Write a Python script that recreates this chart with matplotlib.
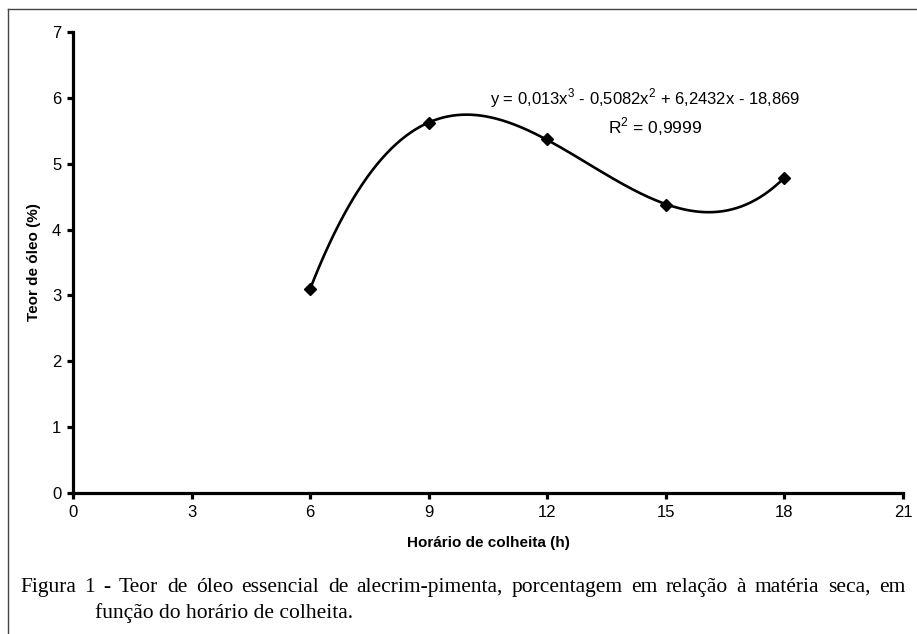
import numpy as np
import matplotlib
matplotlib.use("Agg")
import matplotlib.pyplot as plt
from matplotlib.lines import Line2D

# dados
horario = [6, 9, 12, 15, 18]
teor = [3.10, 5.62, 5.37, 4.38, 4.79]
xticks = [0, 3, 6, 9, 12, 15, 18, 21]
yticks = [0, 1, 2, 3, 4, 5, 6, 7]
equacao = "y = 0,013x$^3$ - 0,5082x$^2$ + 6,2432x - 18,869"
r2 = "R$^2$ = 0,9999"
legenda = ("Figura 1 - Teor de óleo essencial de alecrim-pimenta, porcentagem em relação à matéria seca, em",
           "função do horário de colheita.")

plt.rcParams['font.family'] = ['Liberation Sans', 'DejaVu Sans']
plt.rcParams['mathtext.fontset'] = 'custom'
plt.rcParams['mathtext.rm'] = 'Liberation Sans'

W, H = 917, 634
fig = plt.figure(figsize=(W / 100, H / 100), dpi=100)
ax = fig.add_axes([73 / W, 1 - 493 / H, 830 / W, 461 / H])

# linha de tendencia polinomial (3a ordem)
coef = np.polyfit(horario, teor, 3)
xs = np.linspace(min(horario), max(horario), 300)
ax.plot(xs, np.polyval(coef, xs), color='black', lw=1.9, solid_capstyle='round')
ax.plot(horario, teor, linestyle='none', marker='D', ms=6.5, color='black')

ax.set_xlim(0, 21)
ax.set_ylim(0, 7)
ax.set_xticks(xticks)
ax.set_yticks(yticks)
ax.spines['top'].set_visible(False)
ax.spines['right'].set_visible(False)
for s in ['left', 'bottom']:
    ax.spines[s].set_linewidth(2.3)
ax.tick_params(direction='out', length=4.5, width=2.3, labelsize=12, pad=4)

ax.set_xlabel("Horário de colheita (h)", fontsize=11, fontweight='bold', labelpad=12)
ax.set_ylabel("Teor de óleo (%)", fontsize=11, fontweight='bold', labelpad=8)

fig.text(645 / W, 1 - 98 / H, equacao, fontsize=12, ha='center', va='center')
fig.text(655 / W, 1 - 127 / H, r2, fontsize=12.5, ha='center', va='center')

# legenda da figura (1a linha justificada)
fs = 15.5
renderer = fig.canvas.get_renderer()
palavras = legenda[0].split(" ")
objs = [fig.text(0, 1 - 592 / H, p, family='Liberation Serif', fontsize=fs, va='baseline') for p in palavras]
larg = [o.get_window_extent(renderer).width for o in objs]
x0, x1 = 20, 905
gap = (x1 - x0 - sum(larg)) / (len(palavras) - 1)
x = x0
for o, w in zip(objs, larg):
    o.set_x(x / W)
    x += w + gap
fig.text(95 / W, 1 - 618 / H, legenda[1], family='Liberation Serif', fontsize=fs, va='baseline')

# moldura (so topo e esquerda visiveis)
fig.add_artist(Line2D([8 / W, 1.0], [1 - 9 / H] * 2, transform=fig.transFigure, color='#444444', lw=1))
fig.add_artist(Line2D([8 / W] * 2, [0, 1 - 9 / H], transform=fig.transFigure, color='#444444', lw=1))

fig.savefig("out.png", dpi=100)
